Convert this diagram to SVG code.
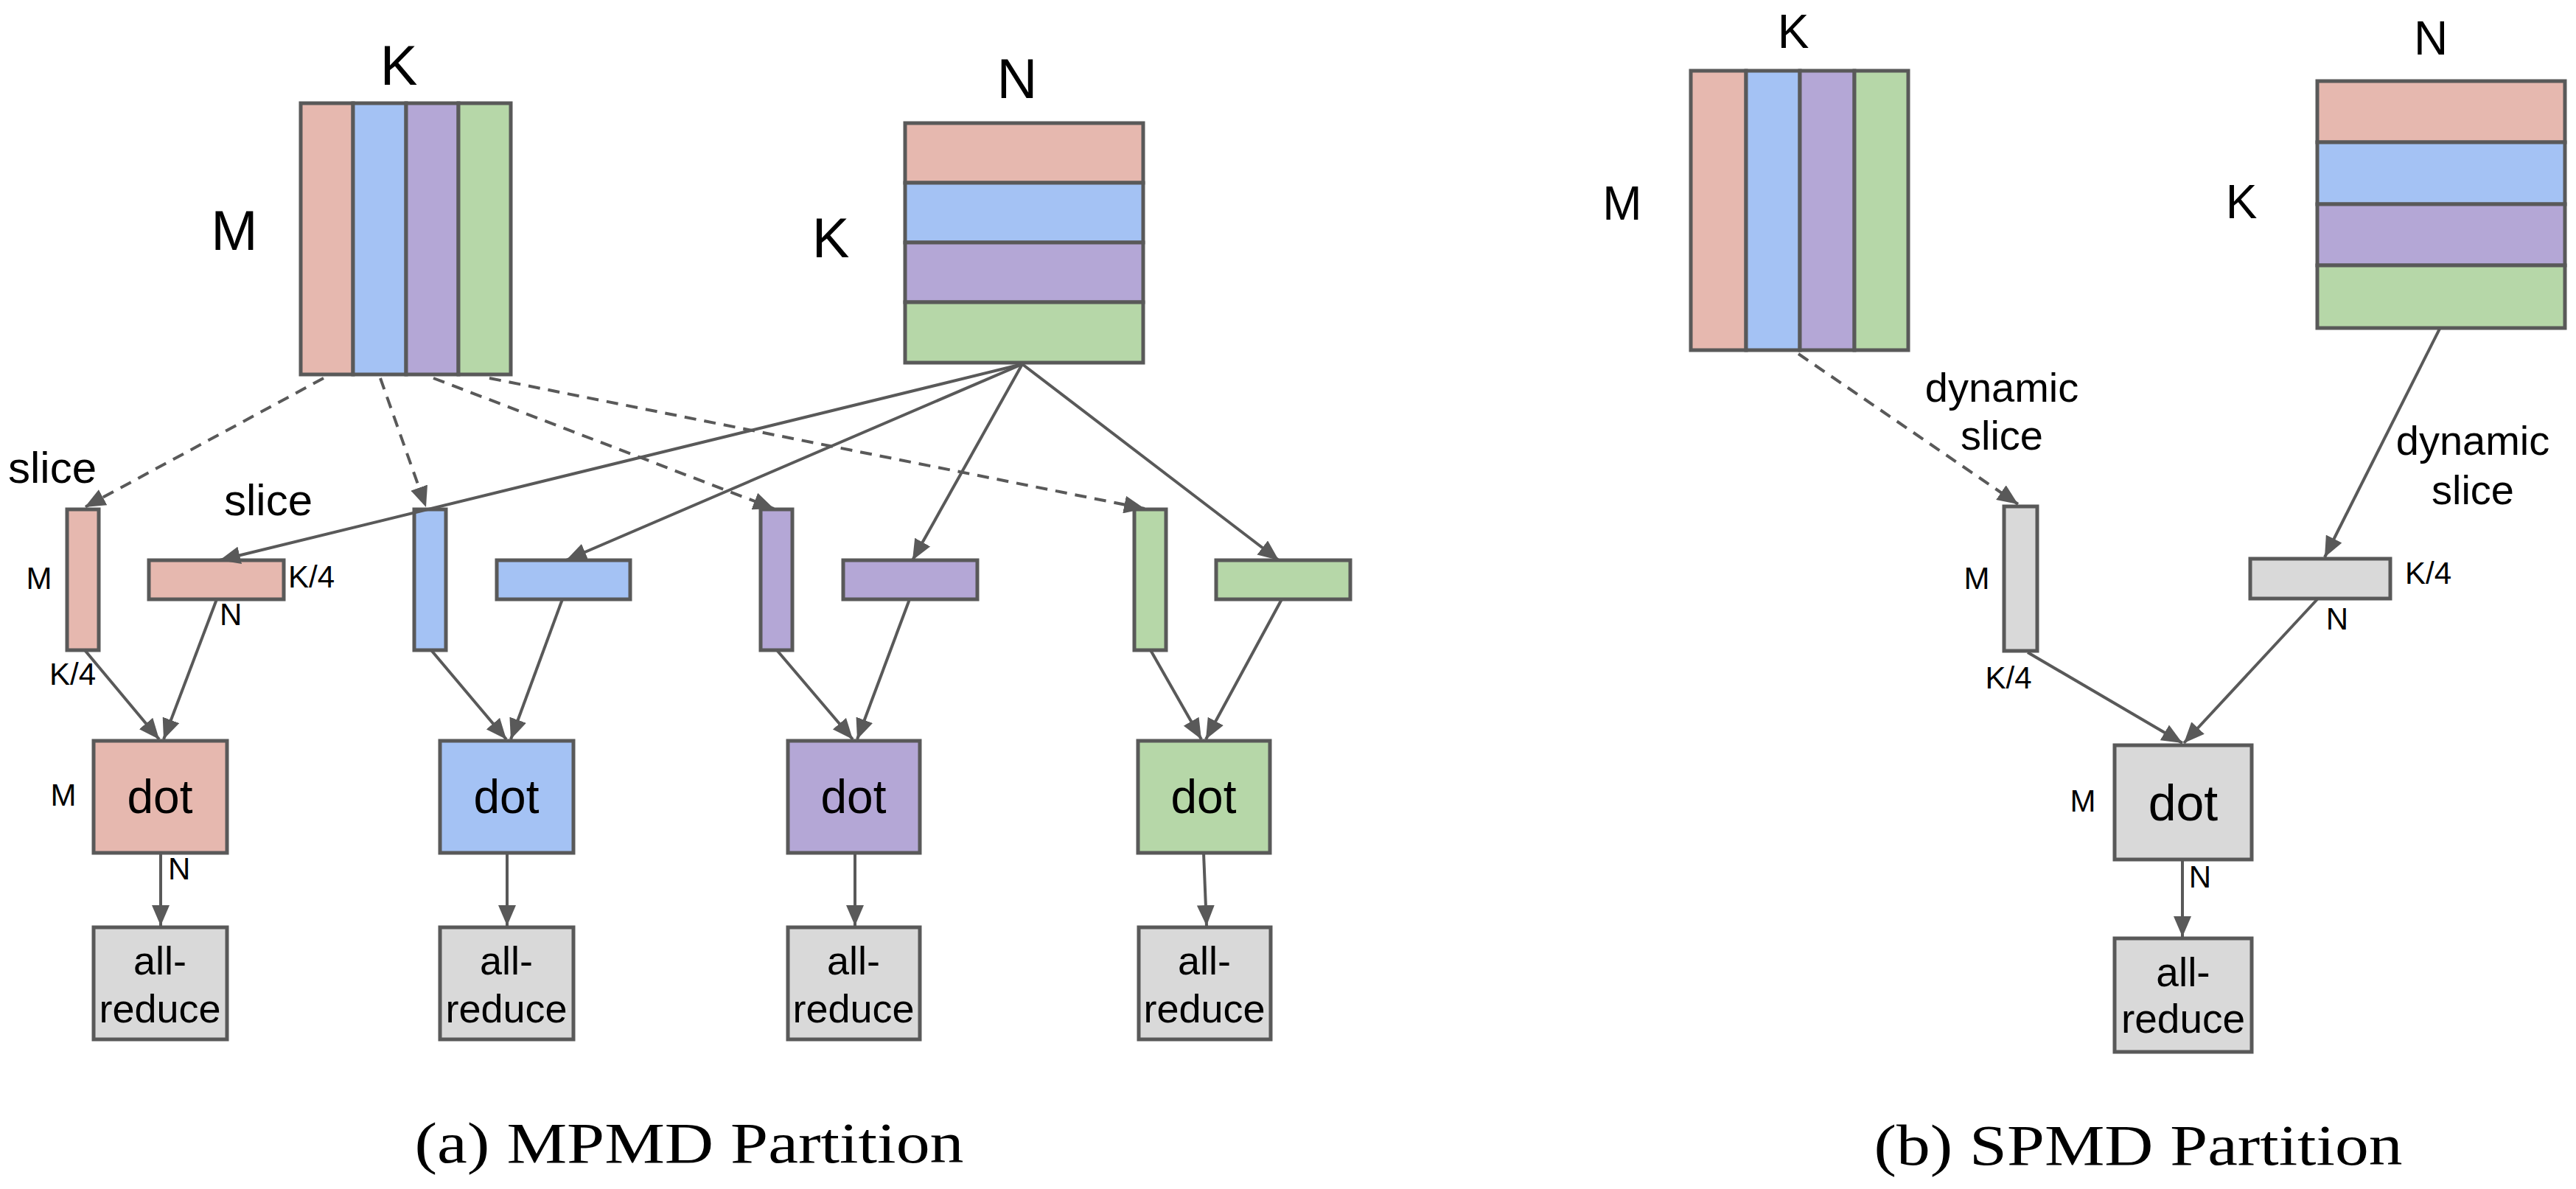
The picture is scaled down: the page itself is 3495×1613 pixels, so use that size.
<svg xmlns="http://www.w3.org/2000/svg" width="3495" height="1613" viewBox="0 0 3495 1613">
<style>
.b{stroke:#595959;stroke-width:5}
.p{fill:#e6b8af}.u{fill:#a4c2f4}.v{fill:#b4a7d6}.g{fill:#b6d7a8}.y{fill:#d9d9d9}
.t{font-family:"Liberation Sans",Arial,sans-serif;fill:#000}
.c{stroke:#595959;stroke-width:4;fill:none;marker-end:url(#ah)}
.d{stroke-dasharray:16 11}
.cap{font-family:"Liberation Serif","Times New Roman",serif;font-size:78px;text-anchor:middle}
</style>
<defs>
<marker id="ah" markerUnits="userSpaceOnUse" markerWidth="30" markerHeight="24" refX="28" refY="12" orient="auto"><path d="M0,0 L28,12 L0,24 Z" fill="#595959"/></marker>
</defs>
<g id="mpmd-A">
<rect class="b p" x="408" y="140" width="71" height="368"/><rect class="b u" x="479" y="140" width="72" height="368"/><rect class="b v" x="551" y="140" width="71" height="368"/><rect class="b g" x="622" y="140" width="71" height="368"/>
<text class="t" x="541" y="115" font-size="76" text-anchor="middle">K</text>
<text class="t" x="318" y="339" font-size="76" text-anchor="middle">M</text>
</g>
<g id="mpmd-B">
<rect class="b p" x="1228" y="167" width="323" height="81"/><rect class="b u" x="1228" y="248" width="323" height="81"/><rect class="b v" x="1228" y="329" width="323" height="81"/><rect class="b g" x="1228" y="410" width="323" height="82"/>
<text class="t" x="1380" y="133" font-size="76" text-anchor="middle">N</text>
<text class="t" x="1127" y="349" font-size="76" text-anchor="middle">K</text>
</g>
<g id="slices">
<rect class="b p" x="91" y="691" width="43" height="191"/><rect class="b p" x="202" y="760" width="183" height="53"/>
<rect class="b u" x="562" y="691" width="43" height="191"/><rect class="b u" x="674" y="760" width="181" height="53"/>
<rect class="b v" x="1032" y="691" width="43" height="191"/><rect class="b v" x="1144" y="760" width="182" height="53"/>
<rect class="b g" x="1539" y="691" width="43" height="191"/><rect class="b g" x="1650" y="760" width="182" height="53"/>
<text class="t" x="11" y="655" font-size="60">slice</text>
<text class="t" x="304" y="699" font-size="60">slice</text>
<text class="t" x="53" y="799" font-size="42" text-anchor="middle">M</text>
<text class="t" x="391" y="797" font-size="42">K/4</text>
<text class="t" x="298" y="848" font-size="42">N</text>
<text class="t" x="67" y="929" font-size="42">K/4</text>
</g>
<g id="dots">
<rect class="b p" x="127" y="1005" width="181" height="152"/><rect class="b u" x="597" y="1005" width="181" height="152"/><rect class="b v" x="1069" y="1005" width="179" height="152"/><rect class="b g" x="1544" y="1005" width="179" height="152"/>
<g class="t" font-size="64" text-anchor="middle"><text x="217" y="1103">dot</text><text x="687" y="1103">dot</text><text x="1158" y="1103">dot</text><text x="1633" y="1103">dot</text></g>
<text class="t" x="86" y="1093" font-size="42" text-anchor="middle">M</text>
<text class="t" x="228" y="1193" font-size="42">N</text>
</g>
<g id="allreduce">
<rect class="b y" x="127" y="1258" width="181" height="152"/><rect class="b y" x="597" y="1258" width="181" height="152"/><rect class="b y" x="1069" y="1258" width="179" height="152"/><rect class="b y" x="1545" y="1258" width="179" height="152"/>
<g class="t" font-size="54" text-anchor="middle">
<text x="217" y="1322">all-</text><text x="217" y="1387">reduce</text>
<text x="687" y="1322">all-</text><text x="687" y="1387">reduce</text>
<text x="1158" y="1322">all-</text><text x="1158" y="1387">reduce</text>
<text x="1634" y="1322">all-</text><text x="1634" y="1387">reduce</text>
</g>
</g>
<g id="connectors">
<line class="c d" x1="439" y1="513" x2="115" y2="688"/>
<line class="c d" x1="516" y1="513" x2="578" y2="688"/>
<line class="c d" x1="588" y1="513" x2="1050" y2="690"/>
<line class="c d" x1="664" y1="513" x2="1553" y2="690"/>
<line class="c" x1="1387" y1="494" x2="298" y2="760"/>
<line class="c" x1="1387" y1="494" x2="768" y2="760"/>
<line class="c" x1="1387" y1="494" x2="1238" y2="760"/>
<line class="c" x1="1387" y1="494" x2="1735" y2="760"/>
<line class="c" x1="115" y1="882" x2="216" y2="1003"/>
<line class="c" x1="294" y1="813" x2="222" y2="1003"/>
<line class="c" x1="585" y1="882" x2="687" y2="1003"/>
<line class="c" x1="763" y1="813" x2="693" y2="1003"/>
<line class="c" x1="1054" y1="882" x2="1157" y2="1003"/>
<line class="c" x1="1234" y1="813" x2="1163" y2="1003"/>
<line class="c" x1="1561" y1="882" x2="1630" y2="1003"/>
<line class="c" x1="1739" y1="813" x2="1636" y2="1003"/>
<line class="c" x1="218" y1="1157" x2="218" y2="1256"/>
<line class="c" x1="688" y1="1157" x2="688" y2="1256"/>
<line class="c" x1="1160" y1="1157" x2="1160" y2="1256"/>
<line class="c" x1="1633" y1="1157" x2="1637" y2="1256"/>
<line class="c d" x1="2440" y1="480" x2="2738" y2="684"/>
<line class="c" x1="3310" y1="446" x2="3154" y2="756"/>
<line class="c" x1="2751" y1="885" x2="2961" y2="1008"/>
<line class="c" x1="3144" y1="813" x2="2963" y2="1008"/>
<line class="c" x1="2961" y1="1166" x2="2961" y2="1271"/>
</g>
<g id="spmd-A">
<rect class="b p" x="2294" y="96" width="75" height="379"/><rect class="b u" x="2369" y="96" width="73" height="379"/><rect class="b v" x="2442" y="96" width="74" height="379"/><rect class="b g" x="2516" y="96" width="73" height="379"/>
<text class="t" x="2433" y="65" font-size="64" text-anchor="middle">K</text>
<text class="t" x="2201" y="298" font-size="64" text-anchor="middle">M</text>
</g>
<g id="spmd-B">
<rect class="b p" x="3144" y="110" width="336" height="83"/><rect class="b u" x="3144" y="193" width="336" height="84"/><rect class="b v" x="3144" y="277" width="336" height="83"/><rect class="b g" x="3144" y="360" width="336" height="85"/>
<text class="t" x="3298" y="74" font-size="64" text-anchor="middle">N</text>
<text class="t" x="3041" y="296" font-size="64" text-anchor="middle">K</text>
</g>
<g id="spmd-slices">
<rect class="b y" x="2719" y="687" width="45" height="196"/>
<rect class="b y" x="3053" y="758" width="190" height="54"/>
<g class="t" font-size="56" text-anchor="middle"><text x="2716" y="545">dynamic</text><text x="2716" y="610">slice</text><text x="3355" y="617">dynamic</text><text x="3355" y="684">slice</text></g>
<g class="t" font-size="42"><text x="2682" y="799" text-anchor="middle">M</text><text x="3263" y="792">K/4</text><text x="3171" y="854" text-anchor="middle">N</text><text x="2725" y="934" text-anchor="middle">K/4</text><text x="2826" y="1101" text-anchor="middle">M</text><text x="2985" y="1204" text-anchor="middle">N</text></g>
</g>
<g id="spmd-dot">
<rect class="b y" x="2869" y="1011" width="186" height="155"/>
<text class="t" x="2962" y="1113" font-size="68" text-anchor="middle">dot</text>
</g>
<g id="spmd-allreduce">
<rect class="b y" x="2869" y="1273" width="186" height="154"/>
<text class="t" x="2962" y="1338" font-size="55" text-anchor="middle">all-</text>
<text class="t" x="2962" y="1401" font-size="55" text-anchor="middle">reduce</text>
</g>
<text class="cap" x="935" y="1577" textLength="745" lengthAdjust="spacingAndGlyphs">(a) MPMD Partition</text>
<text class="cap" x="2901" y="1580" textLength="717" lengthAdjust="spacingAndGlyphs">(b) SPMD Partition</text>
</svg>
